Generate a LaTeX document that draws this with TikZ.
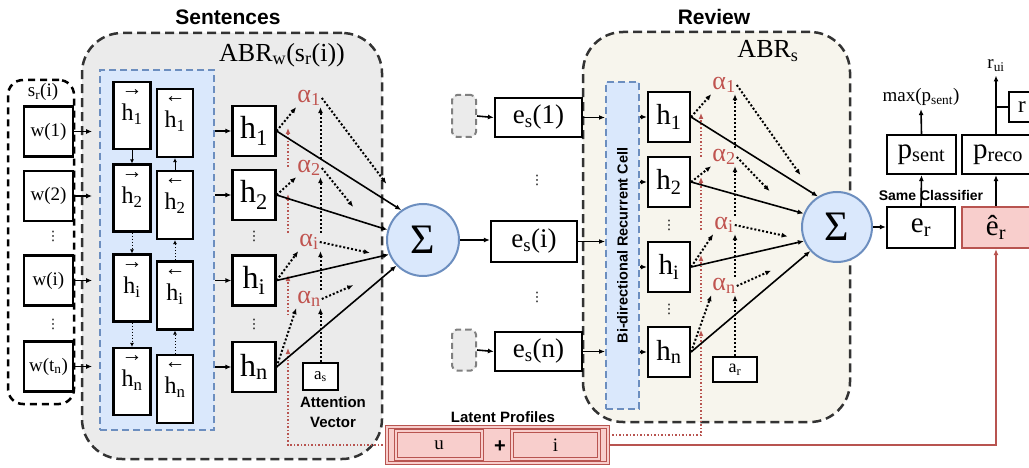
\documentclass[tikz,border=0pt]{standalone}
\usepackage{fontspec}
\setmainfont{Liberation Serif}
\setsansfont{Liberation Sans}
\newfontfamily\dejavu{DejaVu Sans}
\usetikzlibrary{arrows.meta,calc}
\definecolor{redc}{RGB}{184,84,80}
\definecolor{pinkf}{RGB}{248,206,204}
\definecolor{bluef}{RGB}{218,232,252}
\definecolor{blued}{RGB}{108,142,191}
\definecolor{grayf}{RGB}{235,235,235}
\definecolor{creamf}{RGB}{247,245,237}
\definecolor{dgray}{RGB}{51,51,51}
\definecolor{alphac}{RGB}{192,84,80}
\newcommand\fs[1]{\fontsize{#1}{#1}\selectfont}
\newcommand\sbs[1]{\textsubscript{#1}}
\begin{document}
\begin{tikzpicture}[x=1pt,y=-1pt,
 wbox/.style={draw=black,fill=white,line width=2.2pt,inner sep=0pt},
 atip/.style={-{Latex[length=6pt,width=5pt]}},
 arr/.style={atip,line width=1.6pt},
 darr/.style={atip,line width=2pt,dash pattern=on 2pt off 2pt},
 rdarr/.style={atip,draw=redc,line width=1.5pt,dash pattern=on 1.5pt off 2pt},
 sarr/.style={-{Latex[length=4pt,width=4pt]},line width=1pt},
 alph/.style={text=alphac,font=\fs{26},inner sep=1pt},
 sig/.style={circle,draw=blued,fill=bluef,line width=2pt,inner sep=0pt,font=\fs{42}},
 latbox/.style={draw=redc,double=pinkf,double distance=2pt,line width=1.2pt,fill=pinkf,inner sep=0pt},
 lbl/.style={font=\sffamily\bfseries\fs{15}},
 vd/.style={font=\dejavu\fs{13},inner sep=0pt},
 bluepanel/.style={draw=blued,fill=bluef,dash pattern=on 7pt off 4pt,line width=2pt,inner sep=0pt},
]
\useasboundingbox (0,0) rectangle (1029,468);
\clip (0,0) rectangle (1029,468);

% titles
\node[font=\sffamily\bfseries\fs{21}] (tsent) at (228,17) {Sentences};
\node[font=\sffamily\bfseries\fs{21}] (trev) at (714,17) {Review};

% panels
\node[draw=dgray,fill=grayf,dash pattern=on 9pt off 5pt,line width=2.5pt,rounded corners=40pt,inner sep=0pt,minimum width=300pt,minimum height=426pt] (pw) at (232,246) {};
\node[draw=dgray,fill=creamf,dash pattern=on 9pt off 5pt,line width=2.5pt,rounded corners=40pt,inner sep=0pt,minimum width=267pt,minimum height=390pt] (ps) at (716.5,227) {};
\node[draw=black,dash pattern=on 7pt off 5pt,line width=2.5pt,rounded corners=15pt,inner sep=0pt,minimum width=66pt,minimum height=324pt] (sr) at (41,242) {};
\node[bluepanel,minimum width=114pt,minimum height=360pt] (bp) at (157,250) {};
\node[bluepanel,minimum width=33pt,minimum height=327pt] (cell) at (622.5,245.5) {};
\node[rotate=90,font=\sffamily\bfseries\fs{14.5}] (celll) at (cell) {Bi-directional Recurrent Cell};

\node[font=\fs{26}] (abrw) at (282,55) {ABR\sbs{w}(s\sbs{r}(i))};
\node[font=\fs{26}] (abrs) at (768,51) {ABR\sbs{s}};
\node[font=\fs{19}] (srl) at (43,92) {s\sbs{r}(i)};

% latent profiles
\node[latbox,minimum width=221pt,minimum height=36pt] (lat) at (497.5,445) {};
\node[latbox,minimum width=86pt,minimum height=28pt,font=\fs{19}] (u) at (439,445) {u};
\node[latbox,minimum width=87pt,minimum height=28pt,font=\fs{19}] (iv) at (555.5,445) {i};
\node[font=\sffamily\bfseries\fs{20}] (plus) at (500,447) {+};
\node[lbl] (latl) at (503,417) {Latent Profiles};

% words
\node[wbox,minimum width=49pt,minimum height=50pt,font=\fs{19}] (w1) at (48.5,131.5) {w(1)};
\node[wbox,minimum width=49pt,minimum height=50pt,font=\fs{19}] (w2) at (48.5,196) {w(2)};
\node[wbox,minimum width=49pt,minimum height=50pt,font=\fs{19}] (wi) at (48.5,280.5) {w(i)};
\node[wbox,minimum width=49pt,minimum height=50pt,font=\fs{19}] (wn) at (48.5,366.5) {w(t\sbs{n})};
\node[vd] (vw1) at (53,236) {⋮};
\node[vd] (vw2) at (53,324) {⋮};
\foreach \n in {w1,w2,wi,wn}{\draw[arr] (\n.east) -- ++(18,0);}

% BiRNN boxes
\foreach \n/\y/\s in {1/115.5/1,2/198/2,i/288/i,n/381.5/n}{
  \node[wbox,minimum width=37pt,minimum height=67pt] (fh\n) at (132,\y) {};
  \node[font=\fs{21},inner sep=0pt] (fa\n) at ($(fh\n.north)+(0,12)$) {→};
  \node[font=\fs{24},inner sep=0pt,anchor=base] (ft\n) at ($(fh\n.north)+(0,40)$) {h\sbs{\s}};
}
\foreach \n/\y/\s in {1/123/1,2/205/2,i/295.5/i,n/389/n}{
  \node[wbox,minimum width=36pt,minimum height=68pt] (bh\n) at (175,\y) {};
  \node[font=\fs{21},inner sep=0pt] (ba\n) at ($(bh\n.north)+(0,12)$) {←};
  \node[font=\fs{24},inner sep=0pt,anchor=base] (bt\n) at ($(bh\n.north)+(0,40)$) {h\sbs{\s}};
}
\draw[sarr] (fh1.south) -- (fh2.north);
\draw[sarr,dotted] (fh2.south) -- (fhi.north);
\draw[sarr,dotted] (fhi.south) -- (fhn.north);
\draw[sarr] (bh2.north) -- (bh1.south);
\draw[sarr,dotted] (bhi.north) -- (bh2.south);
\draw[sarr,dotted] (bhn.north) -- (bhi.south);

% sentence h
\node[wbox,minimum width=43pt,minimum height=50pt,font=\fs{32}] (sh1) at (254,131) {h\sbs{1}};
\node[wbox,minimum width=43pt,minimum height=50pt,font=\fs{32}] (sh2) at (254,195) {h\sbs{2}};
\node[wbox,minimum width=43pt,minimum height=50pt,font=\fs{32}] (shi) at (254,280.5) {h\sbs{i}};
\node[wbox,minimum width=43pt,minimum height=50pt,font=\fs{32}] (shn) at (254,367) {h\sbs{n}};
\node[vd] (vs1) at (254,236) {⋮};
\node[vd] (vs2) at (254,324) {⋮};
\foreach \n in {sh1,sh2,shi,shn}{\draw[arr] (\n.west -| bp.east) -- (\n.west);}

% sentence alphas
\node[alph] (a1) at (309,98) {α\sbs{1}};
\node[alph] (a2) at (309,168) {α\sbs{2}};
\node[alph] (ai) at (309,242) {α\sbs{i}};
\node[alph] (an) at (309,299) {α\sbs{n}};
\node[wbox,minimum width=35pt,minimum height=27pt,font=\fs{17}] (as) at (320.5,376.5) {a\sbs{s}};
\node[align=center,font=\sffamily\bfseries\fontsize{15}{20}\selectfont] (attl) at (333,412) {Attention\\Vector};

\node[sig,minimum size=72pt] (S1) at (423,240) {Σ};

% red dotted (sentences)
\coordinate (rsa) at (288,445);
\draw[rdarr] (lat.west) -- (rsa) -- (288,348);
\draw[rdarr] (288,315) -- (288,275);
\draw[rdarr] (288,233) -- (288,194);
\draw[rdarr] (288,167) -- (288,128);

\draw[darr] (sh1.east) -- (a1.south west);
\draw[darr] (sh2.east) -- (a2.south west);
\draw[darr] (shi.east) -- (ai.south west);
\draw[darr] (shn.east) -- (an.south west);
\draw[darr] (a2.north -| as.north) -- (a1.south -| as.north);
\draw[darr] (ai.north -| as.north) -- (a2.south -| as.north);
\draw[darr] (an.north -| as.north) -- (ai.south -| as.north);
\draw[darr] (as.north) -- (an.south -| as.north);
\draw[darr] (a1.east) -- ($(a1.east)!0.78!(S1.120)$);
\draw[darr] (a2.east) -- ($(a2.east)!0.48!(S1.194)$);
\draw[darr] (ai.east) -- ($(ai.east)!0.71!(S1.208)$);
\draw[darr] (an.east) -- ($(an.east)!0.42!(S1.225)$);
\draw[arr] (sh1.east) -- (S1.126);
\draw[arr] (sh2.east) -- (S1.164);
\draw[arr] (shi.east) -- (S1.203);
\draw[arr] (shn.east) -- (S1.224);

% middle
\node[draw=gray,fill=grayf,dash pattern=on 6pt off 4pt,line width=2pt,rounded corners=5pt,minimum width=24pt,minimum height=42pt] (g1) at (464,116) {};
\node[draw=gray,fill=grayf,dash pattern=on 6pt off 4pt,line width=2pt,rounded corners=5pt,minimum width=24pt,minimum height=41pt] (g2) at (464,350) {};
\node[wbox,minimum width=87pt,minimum height=39pt,font=\fs{27}] (es1) at (538.5,117.5) {e\sbs{s}(1)};
\node[wbox,minimum width=86pt,minimum height=41pt,font=\fs{27}] (esi) at (534,241.5) {e\sbs{s}(i)};
\node[wbox,minimum width=87pt,minimum height=39pt,font=\fs{27}] (esn) at (538.5,351.5) {e\sbs{s}(n)};
\node[vd] (ve1) at (537,180) {⋮};
\node[vd] (ve2) at (537,297) {⋮};
\draw[arr] (g1.east) -- (es1.west);
\draw[arr] (g2.east) -- (esn.west);
\draw[arr] (S1.east) -- (S1.east -| esi.west);
\foreach \n in {es1,esi,esn}{\draw[arr] (\n.east) -- (\n.east -| cell.west);}

% review h
\node[wbox,minimum width=42pt,minimum height=50pt,font=\fs{29}] (rh1) at (669,117) {h\sbs{1}};
\node[wbox,minimum width=42pt,minimum height=50pt,font=\fs{29}] (rh2) at (669,182) {h\sbs{2}};
\node[wbox,minimum width=42pt,minimum height=50pt,font=\fs{29}] (rhi) at (669,267) {h\sbs{i}};
\node[wbox,minimum width=42pt,minimum height=50pt,font=\fs{29}] (rhn) at (669,352) {h\sbs{n}};
\node[vd] (vr1) at (669,225) {⋮};
\node[vd] (vr2) at (669,309) {⋮};
\foreach \n in {rh1,rh2,rhi,rhn}{\draw[arr] (\n.west -| cell.east) -- (\n.west);}

\node[alph] (ra1) at (724,85) {α\sbs{1}};
\node[alph] (ra2) at (724,157) {α\sbs{2}};
\node[alph] (rai) at (724,225) {α\sbs{i}};
\node[alph] (ran) at (724,286) {α\sbs{n}};
\node[wbox,minimum width=44pt,minimum height=25pt,font=\fs{18}] (ar) at (735,369.5) {a\sbs{r}};

\node[sig,minimum size=70pt] (S2) at (837,227) {Σ};

% red dotted (review)
\coordinate (rra) at (701,435);
\draw[rdarr] ($(lat.east)+(0,-10)$) -- (rra) -- (701,330);
\draw[rdarr] (701,302) -- (701,255);
\draw[rdarr] (701,230) -- (701,177);
\draw[rdarr] (701,157) -- (701,113);

\draw[darr] (rh1.east) -- (ra1.south west);
\draw[darr] (rh2.east) -- (ra2.south west);
\draw[darr] (rhi.east) -- (rai.south west);
\draw[darr] (rhn.east) -- (ran.south west);
\draw[darr] (ra2.north -| ar.north) -- (ra1.south -| ar.north);
\draw[darr] (rai.north -| ar.north) -- (ra2.south -| ar.north);
\draw[darr] (ran.north -| ar.north) -- (rai.south -| ar.north);
\draw[darr] (ar.north) -- (ran.south -| ar.north);
\draw[darr] (ra1.east) -- ($(ra1.east)!0.8!(S2.125)$);
\draw[darr] (ra2.east) -- ($(ra2.east)!0.51!(S2.175)$);
\draw[darr] (rai.east) -- ($(rai.east)!0.77!(S2.201)$);
\draw[darr] (ran.east) -- ($(ran.east)!0.46!(S2.225)$);
\draw[arr] (rh1.east) -- (S2.122);
\draw[arr] (rh2.east) -- (S2.158);
\draw[arr] (rhi.east) -- (S2.203);
\draw[arr] (rhn.east) -- (S2.222);

% right side
\node[wbox,minimum width=68pt,minimum height=41pt,font=\fs{29}] (er) at (921,227.5) {e\sbs{r}};
\node[draw=redc,fill=pinkf,line width=2.2pt,inner sep=0pt,minimum width=68pt,minimum height=41pt,font=\fs{29}] (erh) at (996,227.5) {ê\sbs{r}};
\node[wbox,minimum width=69pt,minimum height=39pt,font=\fs{29}] (psent) at (921.5,154.5) {p\sbs{sent}};
\node[wbox,minimum width=72pt,minimum height=39pt,font=\fs{29}] (preco) at (998,154.5) {p\sbs{reco}};
\node[wbox,minimum width=26pt,minimum height=30pt,font=\fs{23}] (rb) at (1022,107) {r};
\node[font=\fs{19}] (mx) at (921,97) {max(p\sbs{sent})};
\node[font=\fs{19}] (rui) at (996,66) {r\sbs{ui}};
\draw[arr] (S2.east) -- (S2.east -| er.west);
\draw[arr] (er.north) -- (psent.south);
\draw[arr] (psent.north) -- (mx.south);
\draw[arr] (erh.north) -- (erh.north |- preco.south);
\draw[arr] (erh.north |- preco.north) -- (rui.south);
\draw[line width=1.6pt] (erh.north |- rb.west) -- (rb.west);
\node[font=\sffamily\bfseries\fs{14}] (same) at (931,195) {Same Classifier};

\draw[redc,line width=2pt,atip] (lat.east) -| (erh.south);
\end{tikzpicture}
\end{document}
